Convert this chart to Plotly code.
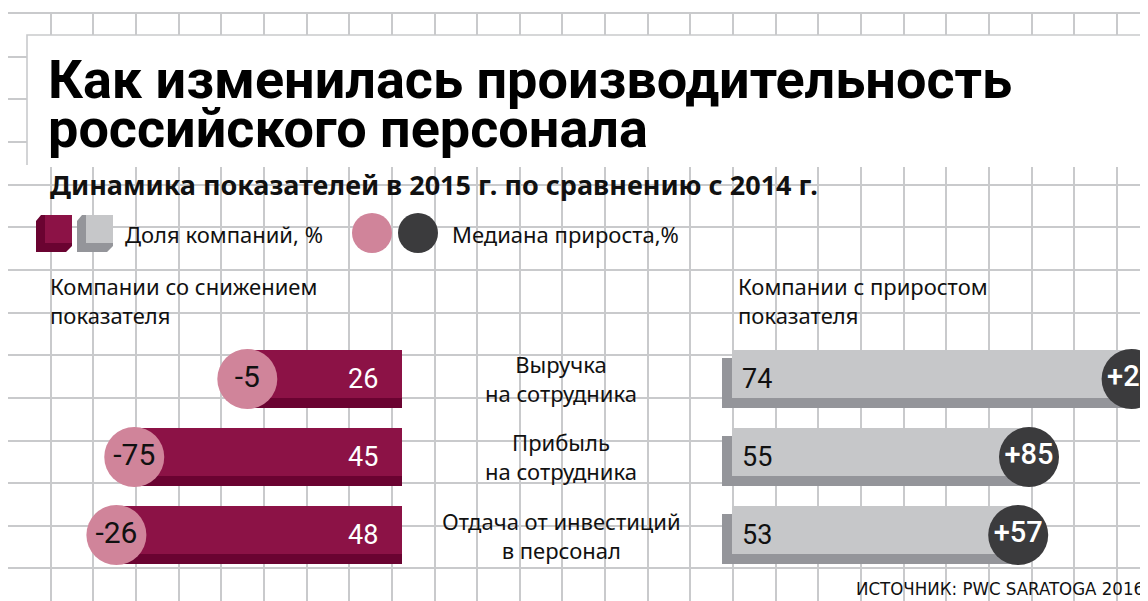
import plotly.graph_objects as go

W, H = 1148, 601
PAD = 8                      # browser body margin around the plot div
FW, FH = W - PAD, H - PAD    # figure size so the page fits the window

# ---- data ----
title_lines = ["Как изменилась производительность", "российского персонала"]
subtitle = "Динамика показателей в 2015 г. по сравнению с 2014 г."
legend_share = "Доля компаний, %"
legend_median = "Медиана прироста,%"
header_down = "Компании со снижением<br>показателя"
header_up = "Компании с приростом<br>показателя"
source = "ИСТОЧНИК: PWC SARATOGA 2016"

categories = ["Выручка<br>на сотрудника",
              "Прибыль<br>на сотрудника",
              "Отдача от инвестиций<br>в персонал"]
share_down = [26, 45, 48]     # доля компаний со снижением, %
share_up = [74, 55, 53]       # доля компаний с приростом, %
median_down = [-5, -75, -26]  # медиана, %
median_up = [25, 85, 57]

# ---- styles ----
MAROON = "#8C1246"
MAROON_DARK = "#6A0331"
PINK = "#D0849A"
GREY = "#C6C7C9"
GREY_DARK = "#94959A"
CHARCOAL = "#3B3B3D"
GRID = "#C9CACC"
TXT = "#111111"

BODY = "Noto Sans, Lato, sans-serif"
NUM = "Roboto, sans-serif"
NARROW = "Liberation Sans Narrow, DejaVu Sans Condensed, sans-serif"

PX_L = 5.95   # pixels per percent, left block
PX_R = 5.4    # pixels per percent, right block
STEP = 42.65  # graph-paper cell


# page pixel -> paper fraction
def fx(px):
    return (px - PAD) / FW


def fy(py):
    return 1 - (py - PAD) / FH


fig = go.Figure()

# empty trace so the graph-paper subplot exists
fig.add_scatter(x=[None], y=[None], xaxis="x", yaxis="y", showlegend=False, hoverinfo="skip")

# left bars (companies with decrease)
fig.add_bar(x=share_down, y=categories, orientation="h", xaxis="x2", yaxis="y2",
            width=58 / 78, offset=-29 / 78, marker=dict(color=MAROON_DARK, line_width=0),
            showlegend=False, hoverinfo="skip")
fig.add_bar(x=share_down, y=categories, orientation="h", xaxis="x2", yaxis="y2",
            width=48 / 78, offset=-29 / 78, marker=dict(color=MAROON, line_width=0),
            showlegend=False, hoverinfo="skip")

# right bars (companies with growth), shadow on left and bottom
shift = 10 / PX_R
fig.add_bar(x=[v + shift for v in share_up], base=-shift, y=categories, orientation="h",
            xaxis="x3", yaxis="y2", width=50 / 78, offset=-21 / 78,
            marker=dict(color=GREY_DARK, line_width=0), showlegend=False, hoverinfo="skip")
fig.add_bar(x=share_up, y=categories, orientation="h", xaxis="x3", yaxis="y2",
            width=48 / 78, offset=-29 / 78, marker=dict(color=GREY, line_width=0),
            showlegend=False, hoverinfo="skip")

# median circles
fig.add_scatter(x=share_down, y=categories, xaxis="x2", yaxis="y2", mode="markers+text",
                marker=dict(size=60, color=PINK, line_width=0),
                text=[str(m) for m in median_down], textposition="middle center",
                textfont=dict(family=NUM, size=30, color=TXT),
                cliponaxis=False, showlegend=False, hoverinfo="skip")
fig.add_scatter(x=share_up, y=categories, xaxis="x3", yaxis="y2", mode="markers+text",
                marker=dict(size=60, color=CHARCOAL, line_width=0),
                text=[f"+{m}" for m in median_up], textposition="middle center",
                textfont=dict(family=NUM, size=29, color="white", weight=500),
                cliponaxis=False, showlegend=False, hoverinfo="skip")

ann = []
for cat, d, u in zip(categories, share_down, share_up):
    ann.append(dict(x=0, y=cat, xref="x2", yref="y2", text=str(d), showarrow=False,
                    xanchor="right", xshift=-22, font=dict(family=NUM, size=27, color="white")))
    ann.append(dict(x=0, y=cat, xref="x3", yref="y2", text=str(u), showarrow=False,
                    xanchor="left", xshift=8, font=dict(family=NUM, size=27, color=TXT)))
    ann.append(dict(x=fx(561), y=cat, xref="paper", yref="y2", text=cat, showarrow=False,
                    xanchor="center", yanchor="middle",
                    font=dict(family=BODY, size=22, color=TXT)))

# titles and labels
ann += [
    dict(x=fx(46), y=fy(79), text=f"<b>{title_lines[0]}</b>", xanchor="left",
         font=dict(family="Roboto", size=54, weight=900, color="black")),
    dict(x=fx(46), y=fy(129), text=f"<b>{title_lines[1]}</b>", xanchor="left",
         font=dict(family="Roboto", size=54, weight=900, color="black")),
    dict(x=fx(48), y=fy(184), text=f"<b>{subtitle}</b>", xanchor="left",
         font=dict(family=BODY, size=27, color=TXT)),
    dict(x=fx(123), y=fy(234), text=legend_share, xanchor="left",
         font=dict(family=BODY, size=22, color=TXT)),
    dict(x=fx(450), y=fy(234), text=legend_median, xanchor="left",
         font=dict(family=BODY, size=22, color=TXT)),
    dict(x=fx(48), y=fy(300), text=header_down, xanchor="left", align="left",
         font=dict(family=BODY, size=22, color=TXT)),
    dict(x=fx(736), y=fy(300), text=header_up, xanchor="left", align="left",
         font=dict(family=BODY, size=22, color=TXT)),
    dict(x=fx(1146), y=fy(588), text=source, xanchor="right",
         font=dict(family=NARROW, size=18.5, color=TXT)),
]
for a in ann:
    a.setdefault("xref", "paper")
    a.setdefault("yref", "paper")
    a.setdefault("showarrow", False)
    a.setdefault("yanchor", "middle")


# decorative shapes: title box, legend keys
def cube(x0, face, shade):
    shadow = (f"M {fx(x0)},{fy(221)} L {fx(x0 + 5)},{fy(215)} L {fx(x0 + 9)},{fy(215)} "
              f"L {fx(x0 + 9)},{fy(243)} L {fx(x0 + 36)},{fy(243)} L {fx(x0 + 36)},{fy(246)} "
              f"L {fx(x0 + 30)},{fy(252)} L {fx(x0)},{fy(252)} Z")
    return [
        dict(type="path", path=shadow, xref="paper", yref="paper",
             fillcolor=shade, line_width=0, layer="above"),
        dict(type="rect", x0=fx(x0 + 9), x1=fx(x0 + 36), y0=fy(243), y1=fy(215),
             xref="paper", yref="paper", fillcolor=face, line_width=0, layer="above"),
    ]


shapes = [
    dict(type="rect", x0=fx(27), x1=fx(1142), y0=fy(167), y1=fy(35), xref="paper", yref="paper",
         fillcolor="white", line_width=0, layer="above"),
    dict(type="path", xref="paper", yref="paper", layer="above",
         path=f"M {fx(27)},{fy(165)} L {fx(27)},{fy(35)} L {fx(1142)},{fy(35)} L {fx(1142)},{fy(165)}",
         line=dict(color=GRID, width=1.6), fillcolor="rgba(0,0,0,0)"),
    dict(type="circle", x0=fx(352), x1=fx(392), y0=fy(253), y1=fy(213), xref="paper", yref="paper",
         fillcolor=PINK, line_width=0, layer="above"),
    dict(type="circle", x0=fx(398), x1=fx(438), y0=fy(253), y1=fy(213), xref="paper", yref="paper",
         fillcolor=CHARCOAL, line_width=0, layer="above"),
]
shapes += cube(36, MAROON, MAROON_DARK)
shapes += cube(77, GREY, GREY_DARK)

hidden = dict(visible=False, fixedrange=True)

fig.update_layout(
    width=FW, height=FH,
    margin=dict(l=0, r=0, t=0, b=0),
    paper_bgcolor="white", plot_bgcolor="rgba(0,0,0,0)",
    barmode="overlay", showlegend=False,
    xaxis=dict(domain=[0, 1], range=[8, W], tickmode="linear", tick0=8, dtick=STEP,
               showgrid=True, gridcolor=GRID, gridwidth=1.6, zeroline=False,
               showline=True, linecolor=GRID, linewidth=1.6, side="top",
               showticklabels=False, ticks="", fixedrange=True),
    yaxis=dict(domain=[0, fy(14)], range=[H, 14], tickmode="linear", tick0=14, dtick=STEP,
               showgrid=True, gridcolor=GRID, gridwidth=1.6, zeroline=False,
               showline=True, linecolor=GRID, linewidth=1.6, side="left",
               showticklabels=False, ticks="", fixedrange=True),
    xaxis2=dict(domain=[0, fx(402)], range=[(402 - PAD) / PX_L, 0], anchor="y2", **hidden),
    xaxis3=dict(domain=[fx(712), 1], range=[-20 / PX_R, (W - 732) / PX_R], anchor="y2", **hidden),
    yaxis2=dict(domain=[fy(574), fy(340)], range=[2.5, -0.5], type="category",
                categoryorder="array", categoryarray=categories, anchor="x2", **hidden),
    annotations=ann,
    shapes=shapes,
)

fig.write_html("out.html")
